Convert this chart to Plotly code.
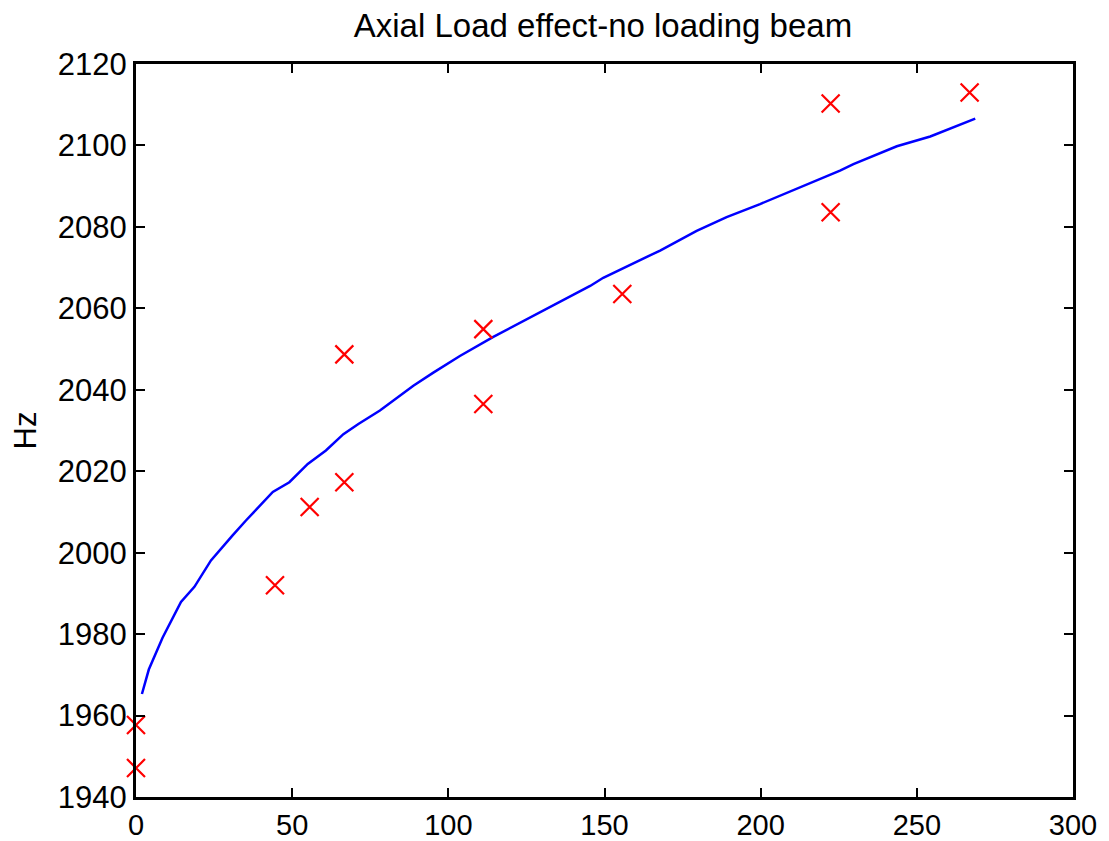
import plotly.graph_objects as go

# Measured points (red crosses)
meas_x = [0, 0, 44.5, 55.6, 66.7, 66.7, 111.2, 111.2, 155.7, 222.4, 222.4, 266.9]
meas_y = [1957.7, 1947.1, 1992.0, 2011.2, 2017.3, 2048.7, 2054.9, 2036.5, 2063.5, 2110.3, 2083.6, 2113.0]

# Model curve (blue line)
model_x = [1.9, 4.1, 8.5, 14.4, 18.7, 24.0, 31.0, 35.2, 43.8, 49.1, 55.0, 60.8, 66.4, 71.2,
           78.1, 84.5, 88.8, 95.2, 103.7, 114.4, 124.0, 136.8, 145.4, 149.6, 158.2, 167.8,
           179.5, 189.1, 199.8, 211.5, 219.0, 225.4, 229.7, 243.6, 254.3, 268.7]
model_y = [1965.3, 1971.3, 1979.1, 1987.9, 1991.6, 1998.1, 2004.3, 2007.9, 2014.9, 2017.3,
           2021.8, 2025.1, 2029.1, 2031.6, 2034.9, 2038.5, 2041.0, 2044.2, 2048.3, 2053.0,
           2056.9, 2062.2, 2065.5, 2067.5, 2070.6, 2074.2, 2079.0, 2082.4, 2085.6, 2089.4,
           2091.9, 2093.8, 2095.4, 2099.8, 2102.2, 2106.6]

x_ticks = [0, 50, 100, 150, 200, 250, 300]
y_ticks = [1940, 1960, 1980, 2000, 2020, 2040, 2060, 2080, 2100, 2120]

FONT = "Liberation Sans, Arial, sans-serif"

fig = go.Figure()
fig.add_trace(go.Scatter(x=model_x, y=model_y, mode="lines",
                         line=dict(color="#0000ff", width=2.5), showlegend=False))
fig.add_trace(go.Scatter(x=meas_x, y=meas_y, mode="markers",
                         marker=dict(symbol="x-thin", size=18, color="#ff0000",
                                     line=dict(color="#ff0000", width=2.2)),
                         showlegend=False, cliponaxis=False))

axis_common = dict(showgrid=False, zeroline=False, showline=True, linecolor="black",
                   linewidth=3, mirror="ticks", ticks="inside", ticklen=9,
                   tickwidth=2, tickcolor="black", automargin=False)

fig.update_layout(
    width=1101, height=833,
    paper_bgcolor="white", plot_bgcolor="white",
    margin=dict(l=128, r=36, t=56, b=44),
    title=dict(text="Axial Load effect-no loading beam", x=0.5404, xanchor="center",
               y=0.9796, yanchor="middle",
               font=dict(family=FONT, size=33, color="black")),
    xaxis=dict(range=[0, 300], tickvals=x_ticks, ticktext=[str(v) for v in x_ticks],
               tickfont=dict(family=FONT, size=29, color="black"),
               **axis_common),
    yaxis=dict(range=[1940, 2120], tickvals=y_ticks, ticktext=[str(v) for v in y_ticks],
               tickfont=dict(family=FONT, size=31, color="black"),
               title=dict(text="Hz", font=dict(family=FONT, size=31, color="black"),
                          standoff=13),
               **axis_common),
)

fig.write_html("out.html")
